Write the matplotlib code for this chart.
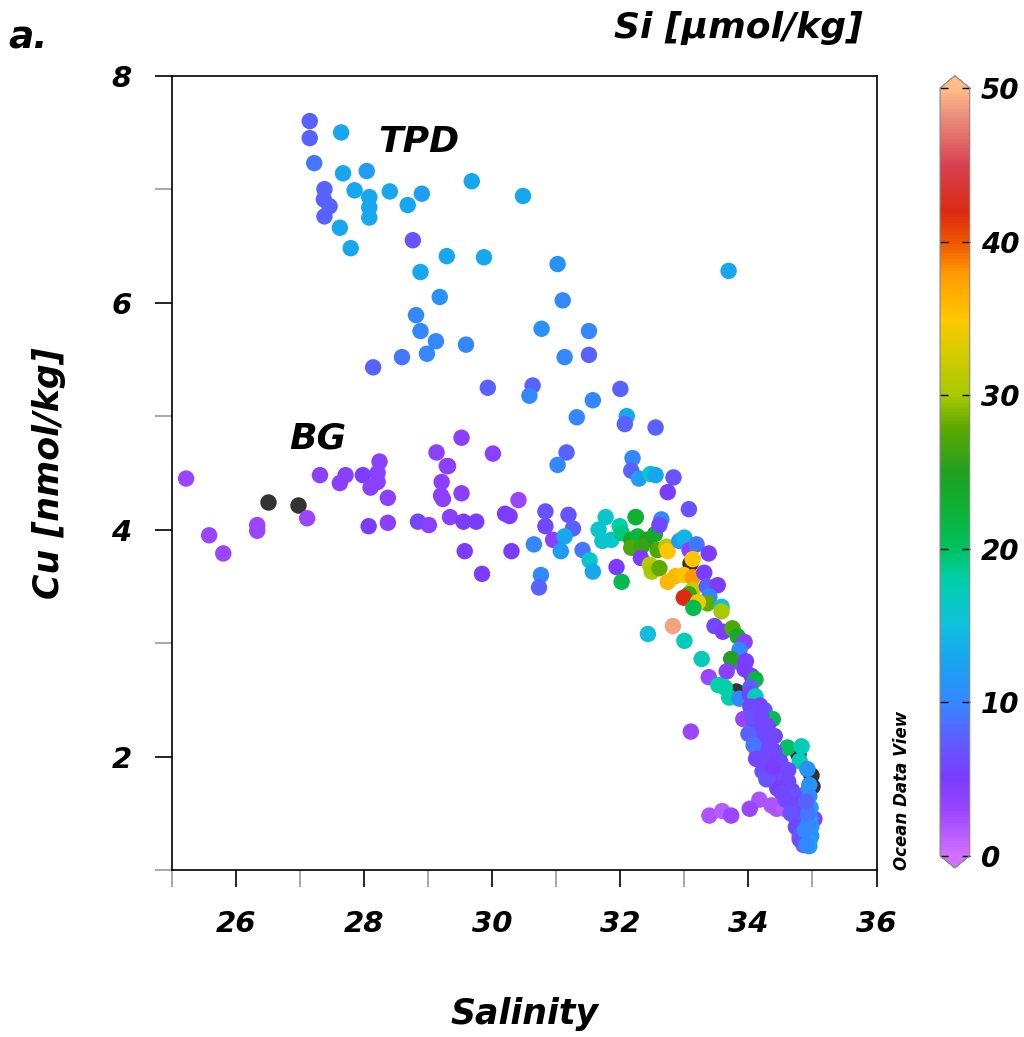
import numpy as np
import matplotlib
matplotlib.use("Agg")
import matplotlib.pyplot as plt
from matplotlib.colors import LinearSegmentedColormap, Normalize

nan = np.nan

# ---------------- data ----------------
# TPD branch (upper-left)
tpd_sal = [27.15, 27.15, 27.64, 27.22, 27.67, 28.04, 27.38, 27.85, 28.08, 28.40, 28.90, 28.68,
           27.37, 27.46, 27.38, 28.08, 28.08, 27.62, 27.79, 28.76, 29.29, 28.88, 29.18,
           29.68, 30.48, 29.87, 31.02, 31.10, 28.81, 28.88, 29.12, 28.98, 28.59, 28.14,
           29.59, 30.77, 31.13, 29.93, 30.63, 30.58, 31.51, 31.51, 32.00, 31.57, 31.32,
           32.10, 33.69, 32.07, 32.55]
tpd_cu = [7.60, 7.45, 7.50, 7.23, 7.14, 7.16, 7.00, 6.99, 6.93, 6.98, 6.96, 6.86,
          6.91, 6.85, 6.76, 6.84, 6.75, 6.66, 6.48, 6.55, 6.41, 6.27, 6.05,
          7.07, 6.94, 6.40, 6.34, 6.02, 5.89, 5.75, 5.66, 5.55, 5.52, 5.43,
          5.63, 5.77, 5.52, 5.25, 5.27, 5.18, 5.75, 5.54, 5.24, 5.14, 4.99,
          5.00, 6.28, 4.93, 4.90]
tpd_si = [8, 8, 13, 9, 13, 12, 8, 13, 13, 13, 12, 13,
          8, 8, 8, 13, 13, 13, 13, 7, 13, 13, 11,
          13, 13, 13, 11, 10, 10, 10, 10, 10, 9, 8,
          10, 11, 10, 8, 8, 10, 10, 8, 8, 10, 10,
          13, 13, 8, 8]

# BG branch (left, low-Si)
bg_sal = [25.22, 25.58, 25.80, 26.33, 26.33, 26.50, 26.97, 27.11, 27.31, 27.62, 27.71, 27.98,
          28.10, 28.21, 28.24, 28.21, 28.37, 28.07, 28.37, 28.84, 29.01, 29.13, 29.31,
          29.20, 29.52, 30.01, 29.29, 29.21, 29.52, 29.23, 30.41, 29.34, 29.55, 29.75,
          30.20, 30.27, 30.83, 30.83, 31.19, 31.26, 30.95, 31.13, 30.65, 31.07, 31.41,
          29.57, 30.30, 29.84, 30.76, 30.73, 31.16, 31.02, 32.19, 32.17]
bg_cu = [4.45, 3.95, 3.79, 4.04, 3.99, 4.24, 4.22, 4.10, 4.48, 4.41, 4.48, 4.48,
         4.37, 4.50, 4.60, 4.42, 4.28, 4.03, 4.06, 4.07, 4.04, 4.68, 4.56,
         4.30, 4.81, 4.67, 4.56, 4.42, 4.32, 4.27, 4.26, 4.11, 4.07, 4.07,
         4.14, 4.12, 4.16, 4.03, 4.13, 4.01, 3.91, 3.94, 3.87, 3.81, 3.82,
         3.81, 3.81, 3.61, 3.60, 3.49, 4.68, 4.57, 4.63, 4.52]
bg_si = [3, 3, 3, 3, 3, nan, nan, 3, 4, 4, 4, 5,
         4, 4, 4, 4, 4, 5, 4, 6, 4, 4, 4,
         4, 4, 4, 4, 4, 4, 4, 3, 4, 5, 5,
         5, 5, 7, 6, 7, 8, 4, 13, 10, 12, 9,
         5, 5, 5, 10, 8, 8, 10, 10, 8]

# Mid-salinity, high-Si halocline
mid_sal = [32.29, 32.47, 32.55, 32.83, 32.74, 33.07,
           31.77, 31.66, 31.72, 31.86, 31.99, 32.02, 31.94, 32.02, 32.24, 31.52, 31.57,
           32.24, 32.17, 32.27, 32.41, 32.17, 32.33, 32.54, 32.64, 32.61, 32.58, 32.72,
           32.74, 32.32, 32.46, 32.49, 32.61, 32.92, 33.00, 33.08, 33.19, 33.13, 33.08,
           33.38, 32.74, 32.86, 32.99, 33.13, 33.31, 33.13, 33.07, 32.99, 33.35, 33.52,
           33.39, 33.36, 33.21, 33.14, 33.58, 33.58, 32.82, 32.43, 33.00, 33.47, 33.60,
           33.75, 33.83, 33.94, 33.27, 33.38, 33.10, 33.86, 33.78, 33.73, 33.96, 33.66,
           33.94, 34.05, 34.11, 34.03, 33.53, 33.63, 33.70, 33.81, 33.86, 34.02, 34.11,
           34.03, 34.14, 34.25, 33.92, 34.09, 34.38, 34.17, 34.30, 34.41, 34.17, 34.28,
           34.14, 34.33, 34.49, 34.61, 34.83, 34.77, 34.80, 34.92, 34.98, 35.00]
mid_cu = [4.45, 4.49, 4.48, 4.46, 4.33, 4.18,
          4.11, 4.00, 3.90, 3.91, 4.03, 3.97, 3.67, 3.54, 4.11, 3.73, 3.63,
          4.11, 3.91, 3.94, 3.91, 3.84, 3.85, 3.96, 4.09, 4.04, 3.82, 3.85,
          3.81, 3.75, 3.69, 3.63, 3.66, 3.90, 3.93, 3.82, 3.87, 3.74, 3.71,
          3.79, 3.54, 3.59, 3.60, 3.58, 3.62, 3.47, 3.43, 3.40, 3.50, 3.51,
          3.41, 3.35, 3.36, 3.31, 3.32, 3.28, 3.15, 3.08, 3.02, 3.15, 3.10,
          3.13, 3.06, 3.01, 2.86, 2.70, 2.22, 2.94, 2.84, 2.86, 2.84, 2.75,
          2.77, 2.71, 2.68, 2.61, 2.63, 2.61, 2.52, 2.58, 2.51, 2.55, 2.53,
          2.44, 2.44, 2.41, 2.33, 2.31, 2.33, 2.25, 2.27, 2.18, 2.17, 2.12,
          2.04, 2.06, 2.03, 2.08, 2.09, 2.02, 1.96, 1.89, 1.84, 1.74]
mid_si = [12, 16, 13, 7, 5, 7,
          16, 16, 16, 16, 18, 19, 5, 21, 14, 16, 13,
          23, 24, 22, 25, 27, 26, 24, 10, 6, 27, 31,
          35, 5, 31, 30, 28, 12, 14, 4, 9, 35, nan,
          5, 36, 36, 35, 38, 5, 32, 26, 42, 8, 5,
          10, 28, 34, 21, 15, 30, 49, 15, 17, 6, 5,
          27, 24, 4, 17, 3, 3, 10, 8, 25, 5, 4,
          5, 5, 22, 8, 18, 18, 18, nan, 10, 6, 17,
          6, 6, 7, 3, 6, 21, 6, 6, 6, 10, 6,
          6, 6, 5, 20, 17, nan, 17, 11, nan, nan]

# Deep / Atlantic layer cluster (dense, near 34-35)
deep_sal = [34.17, 34.22, 34.48, 34.44, 34.59, 34.64, 34.91, 34.88, 34.92, 35.03,
            34.17, 34.36, 34.44, 34.56, 34.02, 33.39, 33.59, 33.73,
            34.75, 34.80, 34.84, 34.91, 34.95, 34.98, 34.95, 34.92, 34.80, 34.86,
            34.20, 34.25, 34.30, 34.35, 34.40, 34.45, 34.50, 34.55, 34.60, 34.65,
            34.70, 34.72, 34.75, 34.78, 34.82, 34.85, 34.30, 34.40, 34.50, 34.55,
            34.62, 34.68, 34.72, 34.78, 34.82, 34.88, 34.90, 34.25, 34.35, 34.45,
            34.58, 34.66, 34.74, 34.80, 34.10, 34.15, 34.05, 34.20, 34.18, 34.00,
            34.08, 34.12, 34.28, 34.38, 34.52, 34.62,
            34.95, 34.95, 34.97, 34.96, 34.93, 34.98, 34.95, 34.90, 34.93, 34.90, 34.88]
deep_cu = [2.03, 1.87, 1.89, 1.77, 1.77, 1.65, 1.68, 1.60, 1.56, 1.45,
           1.62, 1.57, 1.54, 1.54, 1.54, 1.48, 1.52, 1.48,
           1.49, 1.42, 1.34, 1.27, 1.21, 1.38, 1.47, 1.30, 1.27, 1.22,
           2.20, 2.10, 2.00, 1.95, 1.90, 1.85, 1.80, 1.75, 1.70, 1.60,
           1.55, 1.50, 1.45, 1.40, 1.35, 1.30, 2.15, 2.05, 1.95, 1.85,
           1.78, 1.70, 1.65, 1.58, 1.50, 1.42, 1.35, 1.95, 1.85, 1.72,
           1.62, 1.50, 1.38, 1.30, 2.25, 2.15, 2.35, 2.35, 2.45, 2.20,
           2.10, 1.98, 1.80, 1.90, 1.68, 1.88,
           1.75, 1.65, 1.55, 1.45, 1.40, 1.30, 1.25, 1.22, 1.50, 1.60, 1.35]
deep_si = [6, 7, 5, 5, 5, 5, 9, 8, 12, 4,
           2, 2, 2, 1.5, 3, 2, 1.5, 3,
           5, 8, 6, 8, 12, 12, 13, 14, 6, 7,
           6, 6, 6, 5, 6, 6, 5, 6, 6, 5,
           6, 7, 6, 6, 7, 6, 6, 6, 6, 7,
           6, 6, 7, 6, 6, 8, 7, 6, 6, 5,
           6, 7, 6, 7, 6, 6, 7, 6, 6, 8,
           9, 6, 7, 5, 6, 6,
           11, 10, 12, 13, 10, 11, 12, 10, 9, 8, 10]

salinity = np.array(tpd_sal + bg_sal + mid_sal + deep_sal)
cu = np.array(tpd_cu + bg_cu + mid_cu + deep_cu)
si = np.array(tpd_si + bg_si + mid_si + deep_si, dtype=float)

x_ticks = [26, 28, 30, 32, 34, 36]
y_ticks = [2, 4, 6, 8]
cb_ticks = [0, 10, 20, 30, 40, 50]

# ---------------- colormap (ODV-like) ----------------
stops = [
    (0.00, "#D070FF"), (0.06, "#9944FF"), (0.10, "#7A3CFF"), (0.14, "#6655FF"),
    (0.20, "#3388FF"), (0.26, "#15A8EE"), (0.30, "#10C0DD"), (0.36, "#00D0A8"),
    (0.40, "#00C060"), (0.46, "#10B030"), (0.50, "#20A020"), (0.56, "#60AA00"),
    (0.60, "#A8C800"), (0.66, "#D8CC00"), (0.70, "#FFC800"), (0.76, "#FF9900"),
    (0.80, "#EE5500"), (0.84, "#DD2A10"), (0.90, "#D84050"), (0.96, "#E88878"),
    (1.00, "#FFBB88"),
]
cmap = LinearSegmentedColormap.from_list("odv", stops)
cmap.set_over("#FFBB88")
cmap.set_under("#D070FF")
norm = Normalize(vmin=0, vmax=50)

plt.rcParams['font.family'] = ['DejaVu Sans']
fw = dict(fontweight='bold', fontstyle='italic')

fig = plt.figure(figsize=(10.24, 10.37), dpi=100)
ax = fig.add_axes([0.168, 0.161, 0.688, 0.766])

valid = ~np.isnan(si)
ax.scatter(salinity[~valid], cu[~valid], s=140, c="#333333", linewidths=0, zorder=2)
sc = ax.scatter(salinity[valid], cu[valid], s=140, c=si[valid], cmap=cmap, norm=norm,
                linewidths=0, zorder=3)

ax.set_xlim(25, 36)
ax.set_ylim(1, 8)
ax.set_xticks(x_ticks)
ax.set_xticks(np.arange(25, 36, 2), minor=True)
ax.set_yticks(y_ticks)
ax.set_yticks([1, 3, 5, 7], minor=True)
ax.tick_params(which='major', direction='out', length=12, width=1.2, color='black',
               labelsize=21, pad=17)
ax.tick_params(which='minor', direction='out', length=12, width=1.2, color='#999999')
for lab in ax.get_xticklabels() + ax.get_yticklabels():
    lab.set_fontweight('bold')
    lab.set_fontstyle('italic')
for sp in ax.spines.values():
    sp.set_linewidth(1.2)

ax.set_xlabel("Salinity", fontsize=25, **fw)
ax.set_ylabel("Cu [nmol/kg]", fontsize=25, **fw)
ax.xaxis.set_label_coords(0.5, -0.16)
ax.yaxis.set_label_coords(-0.15, 0.5)

ax.text(28.85, 7.42, "TPD", fontsize=26, ha='center', va='center', **fw)
ax.text(27.28, 4.80, "BG", fontsize=26, ha='center', va='center', **fw)

fig.text(0.008, 0.963, "a.", fontsize=27, ha='left', va='center', **fw)
fig.text(0.842, 0.973, "Si [µmol/kg]", fontsize=26, ha='right', va='center', **fw)
fig.text(0.881, 0.238, "Ocean Data View", fontsize=12, rotation=90, ha='center',
         va='center', **fw)

cax = fig.add_axes([0.918, 0.163, 0.029, 0.764])
cb = fig.colorbar(sc, cax=cax, extend='both', extendfrac=0.016, ticks=cb_ticks)
cb.outline.set_edgecolor('#888888')
cb.outline.set_linewidth(0.8)
cax.tick_params(direction='in', length=6, width=1, labelsize=20, pad=8, right=True, left=True)
for lab in cax.get_yticklabels():
    lab.set_fontweight('bold')
    lab.set_fontstyle('italic')

fig.savefig("out.png", dpi=100)
